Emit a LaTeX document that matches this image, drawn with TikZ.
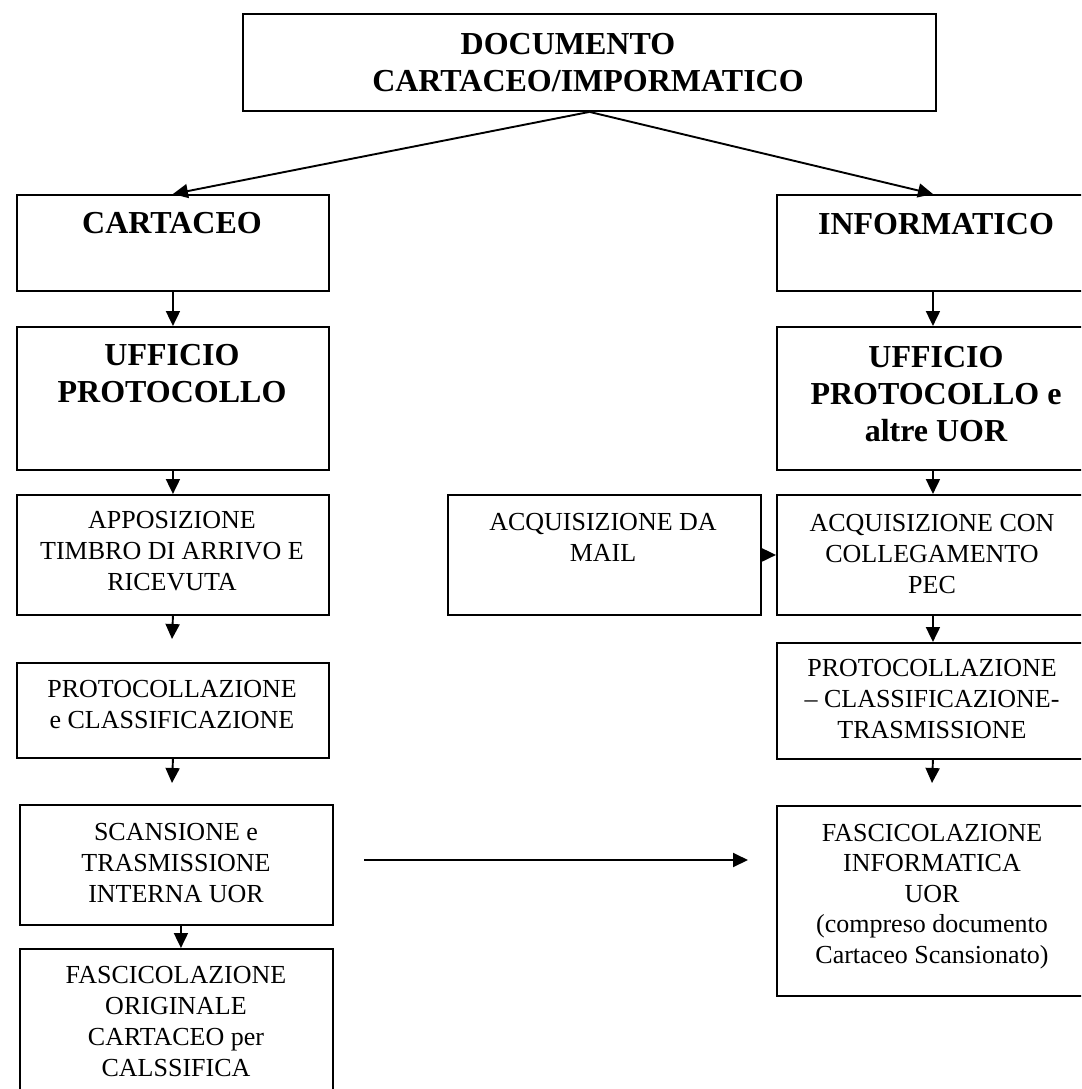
\documentclass[tikz,border=0pt]{standalone}
\usepackage{fontspec}
\setmainfont{Liberation Serif}
\usetikzlibrary{arrows.meta}
\begin{document}
\begin{tikzpicture}[x=1pt,y=-1pt,
  box/.style={draw, line width=1.9pt, rectangle, inner sep=0pt, anchor=north west},
  reg/.style={font=\fontsize{26}{31}\selectfont, align=center, anchor=base, inner sep=0pt},
  bld/.style={font=\fontsize{32}{37}\selectfont\bfseries, align=center, anchor=base, inner sep=0pt},
  arr/.style={line width=1.9pt, -{Triangle[length=15pt,width=14pt]}}]
\useasboundingbox[fill=white] (0,0) rectangle (1081,1089);
\clip (0,0) rectangle (1081,1089);
% boxes
\node[box, minimum width=693, minimum height=97] (top) at (242,13) {};
\node[box, minimum width=312, minimum height=96] (cart) at (16,194) {};
\node[box, minimum width=312, minimum height=96] (info) at (776,194) {};
\node[box, minimum width=312, minimum height=143] (uffL) at (16,326) {};
\node[box, minimum width=312, minimum height=143] (uffR) at (776,326) {};
\node[box, minimum width=312, minimum height=120] (appo) at (16,494) {};
\node[box, minimum width=313, minimum height=120] (mail) at (447,494) {};
\node[box, minimum width=312, minimum height=120] (acq) at (776,494) {};
\node[box, minimum width=312, minimum height=95] (protL) at (16,662) {};
\node[box, minimum width=312, minimum height=116] (protR) at (776,642) {};
\node[box, minimum width=313, minimum height=120] (scan) at (19,804) {};
\node[box, minimum width=313, minimum height=160] (fascO) at (19,948) {};
\node[box, minimum width=312, minimum height=190] (fascI) at (776,805) {};
% texts (base anchor = baseline of the last line)
\node[bld] (tTop) at (588,92) {DOCUMENTO\hspace*{40pt}\\CARTACEO/IMPORMATICO};
\node[bld] (tCart) at (172,233) {CARTACEO};
\node[bld] (tInfo) at (936,234) {INFORMATICO};
\node[bld] (tUffL) at (172,402) {UFFICIO\\PROTOCOLLO};
\node[bld] (tUffR) at (936,441) {UFFICIO\\PROTOCOLLO e\\altre UOR};
\node[reg] (tAppo) at (172,590) {APPOSIZIONE\\TIMBRO DI ARRIVO E\\RICEVUTA};
\node[reg] (tMail) at (603,561) {ACQUISIZIONE DA\\MAIL};
\node[reg] (tAcq) at (932,593) {ACQUISIZIONE CON\\COLLEGAMENTO\\PEC};
\node[reg] (tProtL) at (172,728) {PROTOCOLLAZIONE\\e CLASSIFICAZIONE};
\node[reg] (tProtR) at (932,738) {PROTOCOLLAZIONE\\– CLASSIFICAZIONE-\\TRASMISSIONE};
\node[reg] (tScan) at (176,902) {SCANSIONE e\\TRASMISSIONE\\INTERNA UOR};
\node[reg] (tFascO) at (176,1076) {FASCICOLAZIONE\\ORIGINALE\\CARTACEO per\\CALSSIFICA};
\node[reg, font=\fontsize{26}{30.5}\selectfont] (tFascI) at (932,963) {FASCICOLAZIONE\\INFORMATICA\\UOR\\(compreso documento\\Cartaceo Scansionato)};
% free ends
\coordinate (e1) at (172,639);
\coordinate (e2) at (172,783);
\coordinate (e3) at (932,783);
\coordinate (h1) at (364,860);
\coordinate (h2) at (748,860);
% connectors
\draw[arr] (top.south) -- (cart.north);
\draw[arr] (top.south) -- (info.north);
\draw[arr] (cart.south) -- (uffL.north);
\draw[arr] (info.south) -- (uffR.north);
\draw[arr] (uffL.south) -- (appo.north);
\draw[arr] (uffR.south) -- (acq.north);
\draw[arr] (appo.south) -- (e1);
\draw[arr] (mail.east) -- (acq.west);
\draw[arr] (acq.south) -- (protR.north);
\draw[arr] (protL.south) -- (e2);
\draw[arr] (protR.south) -- (e3);
\draw[arr] ([xshift=4.5pt]scan.south) -- ([xshift=4.5pt]fascO.north);
\draw[arr] (h1) -- (h2);
\end{tikzpicture}
\end{document}
